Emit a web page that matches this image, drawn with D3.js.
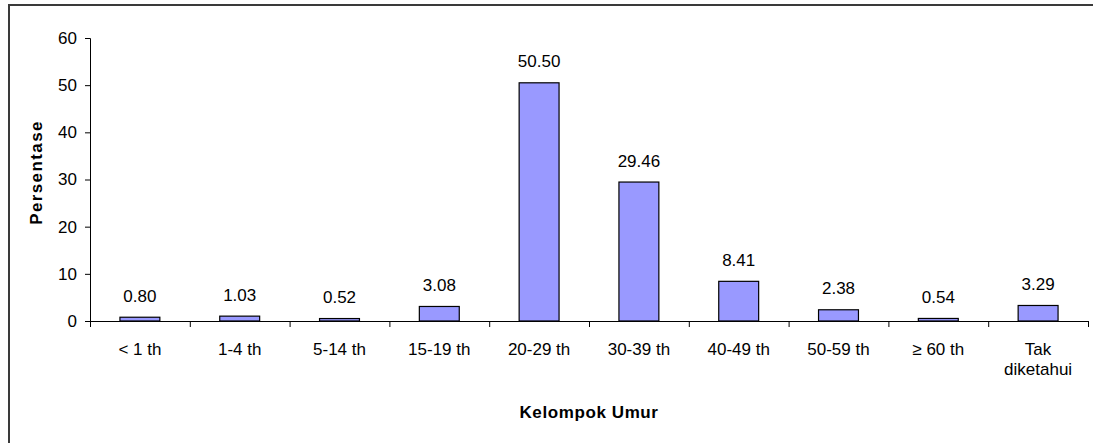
<!DOCTYPE html>
<html><head><meta charset="utf-8">
<script src="https://cdn.jsdelivr.net/npm/d3@7"></script>
<style>
body{margin:0;background:#fff;}
text{font-family:"Liberation Sans",Arial,sans-serif;}
</style></head>
<body><svg id="c" width="1093" height="443"></svg>
<script>
const categories = ["< 1 th","1-4 th","5-14 th","15-19 th","20-29 th","30-39 th","40-49 th","50-59 th","≥ 60 th","Tak\ndiketahui"];
const values = [0.80,1.03,0.52,3.08,50.50,29.46,8.41,2.38,0.54,3.29];
const yTicks = [0,10,20,30,40,50,60];
const xTitle = "Kelompok Umur";
const yTitle = "Persentase";

(function(){
const svg = d3.select("#c");
svg.append("rect").attr("x",9).attr("y",5).attr("width",1100).attr("height",460)
  .attr("fill","none").attr("stroke","#3a3a3a").attr("stroke-width",2);

const pLeft=90, pRight=1088, pTop=38, pBottom=321;
const x = d3.scaleBand().domain(categories).range([pLeft,pRight]).paddingInner(0.6).paddingOuter(0.3);
const y = d3.scaleLinear().domain([0,60]).range([pBottom,pTop]);

// bars
svg.selectAll("rect.bar").data(values).enter().append("rect").attr("class","bar")
  .attr("x",(d,i)=>x(categories[i])).attr("width",x.bandwidth())
  .attr("y",d=>y(d)).attr("height",d=>y(0)-y(d))
  .attr("fill","#9999FF").attr("stroke","#000").attr("stroke-width",1.2);

// value labels
svg.selectAll("text.val").data(values).enter().append("text").attr("class","val")
  .attr("x",(d,i)=>x(categories[i])+x.bandwidth()/2).attr("y",d=>y(d)-15.5)
  .attr("text-anchor","middle").attr("font-size",17).attr("fill","#000")
  .text(d=>d.toFixed(2));

// y axis
const ya = svg.append("g").attr("transform",`translate(${pLeft},0)`)
  .call(d3.axisLeft(y).tickValues(yTicks).tickSize(5).tickPadding(8));
ya.select(".domain").attr("stroke","#000");
ya.selectAll(".tick line").attr("stroke","#000");
ya.selectAll("text").attr("font-size",17).attr("fill","#000").attr("font-family","Liberation Sans, Arial, sans-serif");

// x axis
const xb = d3.scaleLinear().domain([0,categories.length]).range([pLeft,pRight]);
const xa = svg.append("g").attr("transform",`translate(0,${pBottom})`)
  .call(d3.axisBottom(xb).tickValues(d3.range(categories.length+1)).tickSize(6).tickSizeOuter(0).tickFormat(""));
xa.select(".domain").attr("stroke","#000");
xa.selectAll(".tick line").attr("stroke","#000");

// category labels
categories.forEach((c,i)=>{
  const cx = x(c)+x.bandwidth()/2;
  const t = svg.append("text").attr("x",cx).attr("y",355)
    .attr("text-anchor","middle").attr("font-size",17).attr("fill","#000");
  c.split("\n").forEach((line,j)=>{
    t.append("tspan").attr("x",cx).attr("dy",j===0?0:19.5).text(line);
  });
});

// titles
svg.append("text").attr("x",(pLeft+pRight)/2).attr("y",418).attr("text-anchor","middle")
  .attr("font-size",17).attr("font-weight","bold").attr("letter-spacing",0.6).text(xTitle);
svg.append("text").attr("transform",`translate(42,172.5) rotate(-90)`)
  .attr("text-anchor","middle").attr("font-size",17).attr("font-weight","bold").attr("letter-spacing",1.4).text(yTitle);
})();
</script></body></html>
